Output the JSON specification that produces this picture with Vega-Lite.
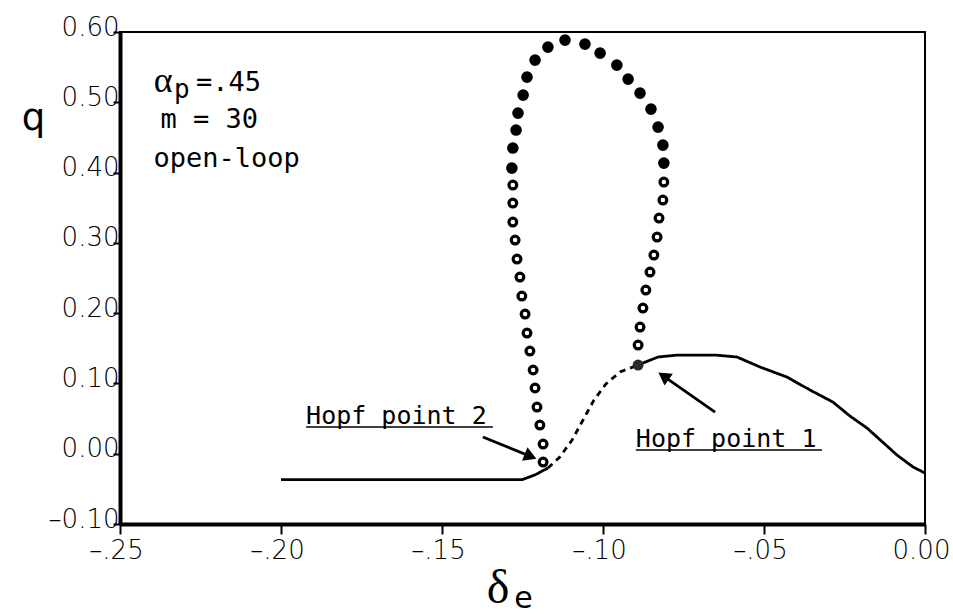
{
  "$schema": "https://vega.github.io/schema/vega-lite/v6.json",
  "width": 805,
  "height": 492,
  "autosize": {"type": "none"},
  "padding": {"left": 120, "top": 32, "right": 28, "bottom": 91},
  "background": "white",
  "config": {
    "view": {"stroke": "black", "strokeWidth": 2},
    "axis": {"grid": false, "domainColor": "black", "domainWidth": 4, "tickColor": "black", "tickWidth": 2, "labelColor": "black", "labelFont": "DejaVu Sans", "labelFontWeight": 200, "labelFontSize": 26, "labelFlush": false, "labelOverlap": false}
  },
  "datasets": {
    "curve": [
      {"x": -0.2, "q": -0.037, "branch": "low", "stability": "stable"},
      {"x": -0.1252, "q": -0.037, "branch": "low", "stability": "stable"},
      {"x": -0.1211, "q": -0.0301, "branch": "low", "stability": "stable"},
      {"x": -0.1171, "q": -0.0203, "branch": "low", "stability": "stable"},
      {"x": -0.1171, "q": -0.0203, "branch": "mid", "stability": "unstable"},
      {"x": -0.1134, "q": -0.0047, "branch": "mid", "stability": "unstable"},
      {"x": -0.1096, "q": 0.0195, "branch": "mid", "stability": "unstable"},
      {"x": -0.1062, "q": 0.048, "branch": "mid", "stability": "unstable"},
      {"x": -0.1028, "q": 0.0764, "branch": "mid", "stability": "unstable"},
      {"x": -0.0991, "q": 0.0992, "branch": "mid", "stability": "unstable"},
      {"x": -0.0947, "q": 0.1163, "branch": "mid", "stability": "unstable"},
      {"x": -0.0891, "q": 0.1262, "branch": "mid", "stability": "unstable"},
      {"x": -0.0891, "q": 0.1262, "branch": "high", "stability": "stable"},
      {"x": -0.0829, "q": 0.1376, "branch": "high", "stability": "stable"},
      {"x": -0.0767, "q": 0.1404, "branch": "high", "stability": "stable"},
      {"x": -0.0652, "q": 0.1404, "branch": "high", "stability": "stable"},
      {"x": -0.0584, "q": 0.1376, "branch": "high", "stability": "stable"},
      {"x": -0.0512, "q": 0.1233, "branch": "high", "stability": "stable"},
      {"x": -0.0429, "q": 0.1091, "branch": "high", "stability": "stable"},
      {"x": -0.0357, "q": 0.0906, "branch": "high", "stability": "stable"},
      {"x": -0.0286, "q": 0.0735, "branch": "high", "stability": "stable"},
      {"x": -0.0233, "q": 0.0536, "branch": "high", "stability": "stable"},
      {"x": -0.018, "q": 0.0365, "branch": "high", "stability": "stable"},
      {"x": -0.0087, "q": -0.0019, "branch": "high", "stability": "stable"},
      {"x": -0.0037, "q": -0.0189, "branch": "high", "stability": "stable"},
      {"x": 0, "q": -0.0275, "branch": "high", "stability": "stable"}
    ],
    "orbit": [
      {"x": -0.1118, "q": 0.5885, "stability": "stable"},
      {"x": -0.1171, "q": 0.5785, "stability": "stable"},
      {"x": -0.1211, "q": 0.56, "stability": "stable"},
      {"x": -0.1236, "q": 0.5358, "stability": "stable"},
      {"x": -0.1248, "q": 0.5102, "stability": "stable"},
      {"x": -0.1264, "q": 0.4846, "stability": "stable"},
      {"x": -0.127, "q": 0.4605, "stability": "stable"},
      {"x": -0.128, "q": 0.4349, "stability": "stable"},
      {"x": -0.1283, "q": 0.4064, "stability": "stable"},
      {"x": -0.1056, "q": 0.5828, "stability": "stable"},
      {"x": -0.1009, "q": 0.57, "stability": "stable"},
      {"x": -0.0957, "q": 0.5529, "stability": "stable"},
      {"x": -0.0922, "q": 0.533, "stability": "stable"},
      {"x": -0.0885, "q": 0.5131, "stability": "stable"},
      {"x": -0.0851, "q": 0.4903, "stability": "stable"},
      {"x": -0.0829, "q": 0.4647, "stability": "stable"},
      {"x": -0.0814, "q": 0.4391, "stability": "stable"},
      {"x": -0.0811, "q": 0.4135, "stability": "stable"},
      {"x": -0.128, "q": 0.3822, "stability": "unstable"},
      {"x": -0.128, "q": 0.3566, "stability": "unstable"},
      {"x": -0.128, "q": 0.3296, "stability": "unstable"},
      {"x": -0.1273, "q": 0.304, "stability": "unstable"},
      {"x": -0.1267, "q": 0.277, "stability": "unstable"},
      {"x": -0.1258, "q": 0.2513, "stability": "unstable"},
      {"x": -0.1252, "q": 0.2243, "stability": "unstable"},
      {"x": -0.1242, "q": 0.1987, "stability": "unstable"},
      {"x": -0.1236, "q": 0.1717, "stability": "unstable"},
      {"x": -0.1227, "q": 0.1461, "stability": "unstable"},
      {"x": -0.1217, "q": 0.1191, "stability": "unstable"},
      {"x": -0.1211, "q": 0.0935, "stability": "unstable"},
      {"x": -0.1205, "q": 0.0664, "stability": "unstable"},
      {"x": -0.1196, "q": 0.0408, "stability": "unstable"},
      {"x": -0.1186, "q": 0.0138, "stability": "unstable"},
      {"x": -0.1186, "q": -0.0118, "stability": "unstable"},
      {"x": -0.0811, "q": 0.3865, "stability": "unstable"},
      {"x": -0.0814, "q": 0.3609, "stability": "unstable"},
      {"x": -0.0826, "q": 0.3353, "stability": "unstable"},
      {"x": -0.0832, "q": 0.3082, "stability": "unstable"},
      {"x": -0.0842, "q": 0.2826, "stability": "unstable"},
      {"x": -0.0854, "q": 0.2585, "stability": "unstable"},
      {"x": -0.0867, "q": 0.2328, "stability": "unstable"},
      {"x": -0.0876, "q": 0.2072, "stability": "unstable"},
      {"x": -0.0885, "q": 0.1802, "stability": "unstable"},
      {"x": -0.0891, "q": 0.1546, "stability": "unstable"}
    ],
    "hopf": [
      {"x": -0.0891, "q": 0.1262, "name": "Hopf point 1"}
    ],
    "arrows": [
      {"name": "Hopf point 1", "x": -0.0812, "q": 0.1105, "x2": -0.0652, "q2": 0.0593},
      {"name": "Hopf point 2", "x": -0.1225, "q": -0.0038, "x2": -0.1373, "q2": 0.0238}
    ],
    "labels": [
      {"text": "Hopf point 2", "x": -0.1922, "q": 0.0422, "x2": -0.1342, "uq": 0.0379},
      {"text": "Hopf point 1", "x": -0.0898, "q": 0.0095, "x2": -0.032, "uq": 0.0053}
    ]
  },
  "encoding": {
    "x": {
      "field": "x",
      "type": "quantitative",
      "scale": {"domain": [-0.25, 0], "nice": false, "zero": false},
      "axis": {
        "title": null,
        "values": [-0.25, -0.2, -0.15, -0.1, -0.05, 0],
        "labelExpr": "datum.value == 0 ? '0.00' : '–' + substring(format(abs(datum.value), '.2f'), 1)",
        "tickSize": 10,
        "labelPadding": 24,
        "labelBaseline": "alphabetic",
        "labelOffset": -4
      }
    },
    "y": {
      "field": "q",
      "type": "quantitative",
      "scale": {"domain": [-0.1, 0.6], "nice": false, "zero": false},
      "axis": {
        "title": "q",
        "titleAngle": 0,
        "titleFont": "DejaVu Sans",
        "titleFontSize": 37,
        "titleFontWeight": "normal",
        "titleColor": "black",
        "titleAlign": "center",
        "titleBaseline": "alphabetic",
        "titleX": -87,
        "titleY": 97,
        "values": [-0.1, 0, 0.1, 0.2, 0.3, 0.4, 0.5, 0.6],
        "labelExpr": "datum.value < 0 ? '–' + format(abs(datum.value), '.2f') : format(datum.value, '.2f')",
        "tickSize": 7,
        "labelPadding": -6,
        "labelOffset": -5,
        "labelBaseline": "middle"
      }
    }
  },
  "layer": [
    {
      "data": {"name": "curve"},
      "mark": {"type": "line", "color": "black", "strokeWidth": 2.8},
      "encoding": {
        "detail": {"field": "branch", "type": "nominal"},
        "strokeDash": {"field": "stability", "type": "nominal", "scale": {"domain": ["stable", "unstable"], "range": [[1, 0], [6, 5]]}, "legend": null}
      }
    },
    {
      "data": {"name": "orbit"},
      "transform": [{"filter": "datum.stability == 'unstable'"}],
      "mark": {"type": "point", "shape": "circle", "filled": false, "fill": "white", "fillOpacity": 1, "stroke": "black", "strokeWidth": 3.2, "size": 60, "opacity": 1}
    },
    {
      "data": {"name": "orbit"},
      "transform": [{"filter": "datum.stability == 'stable'"}],
      "mark": {"type": "point", "shape": "circle", "filled": true, "color": "black", "size": 135, "opacity": 1}
    },
    {
      "data": {"name": "hopf"},
      "mark": {"type": "point", "shape": "circle", "filled": true, "color": "#2a2a2a", "size": 120, "opacity": 1}
    },
    {
      "data": {"name": "arrows"},
      "mark": {"type": "rule", "color": "black", "strokeWidth": 2.8},
      "encoding": {"x2": {"field": "x2"}, "y2": {"field": "q2"}}
    },
    {
      "data": {"name": "arrows"},
      "transform": [{"filter": "datum.name == 'Hopf point 1'"}],
      "mark": {"type": "point", "shape": "triangle-up", "filled": true, "color": "black", "size": 210, "angle": 305, "opacity": 1}
    },
    {
      "data": {"name": "arrows"},
      "transform": [{"filter": "datum.name == 'Hopf point 2'"}],
      "mark": {"type": "point", "shape": "triangle-up", "filled": true, "color": "black", "size": 210, "angle": 112, "opacity": 1}
    },
    {
      "data": {"name": "labels"},
      "mark": {"type": "text", "font": "DejaVu Sans Mono", "fontSize": 25, "align": "left", "baseline": "alphabetic", "color": "black"},
      "encoding": {"text": {"field": "text"}}
    },
    {
      "data": {"name": "labels"},
      "mark": {"type": "rule", "color": "black", "strokeWidth": 1.5},
      "encoding": {"x2": {"field": "x2"}, "y": {"field": "uq", "type": "quantitative"}}
    },
    {
      "data": {"values": [
        {"text": "=.45", "x": -0.2264, "q": 0.5159},
        {"text": "m = 30", "x": -0.2374, "q": 0.4631},
        {"text": "open-loop", "x": -0.2396, "q": 0.4078}
      ]},
      "mark": {"type": "text", "font": "DejaVu Sans Mono", "fontSize": 27, "align": "left", "baseline": "alphabetic", "color": "black"},
      "encoding": {"text": {"field": "text"}}
    },
    {
      "data": {"values": [{"text": "α", "x": -0.2366, "q": 0.5145}]},
      "mark": {"type": "text", "font": "Liberation Serif", "fontSize": 36, "align": "center", "baseline": "alphabetic", "color": "black"},
      "encoding": {"text": {"field": "text"}}
    },
    {
      "data": {"values": [{"text": "p", "x": -0.2332, "q": 0.5055}]},
      "mark": {"type": "text", "font": "DejaVu Sans Mono", "fontSize": 26, "align": "left", "baseline": "alphabetic", "color": "black"},
      "encoding": {"text": {"field": "text"}}
    },
    {
      "data": {"values": [{"text": "δ", "x": -0.1326, "q": -0.2124}]},
      "mark": {"type": "text", "font": "Liberation Serif", "fontSize": 48, "align": "center", "baseline": "alphabetic", "color": "black"},
      "encoding": {"text": {"field": "text"}}
    },
    {
      "data": {"values": [{"text": "e", "x": -0.1276, "q": -0.2195}]},
      "mark": {"type": "text", "font": "DejaVu Sans", "fontSize": 30, "align": "left", "baseline": "alphabetic", "color": "black"},
      "encoding": {"text": {"field": "text"}}
    }
  ]
}
